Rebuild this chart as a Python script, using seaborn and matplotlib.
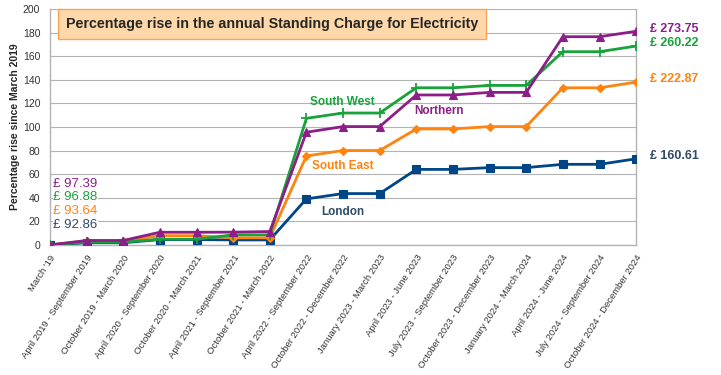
import pandas as pd
import seaborn as sns
import matplotlib.pyplot as plt

# Periodos (eixo x)
periods = ["March '19", "April 2019 - September 2019", "October 2019 - March 2020",
           "April 2020 - September 2020", "October 2020 - March 2021",
           "April 2021 - September 2021", "October 2021 - March 2022",
           "April 2022 - September 2022", "October 2022 - December 2022",
           "January 2023 - March 2023", "April 2023 - June 2023",
           "July 2023 - September 2023", "October 2023 - December 2023",
           "January 2024 - March 2024", "April 2024 - June 2024",
           "July 2024 - September 2024", "October 2024 - December 2024"]

# Aumento percentual desde marco de 2019
london = [0, 1.8, 1.8, 4.5, 4.5, 4.2, 4.2, 39, 43.5, 43.5, 64, 64, 65.5, 65.5, 68.3, 68.3, 73.0]
south_east = [0, 3.3, 3.3, 7.8, 7.8, 6.0, 6.0, 75.4, 80, 80, 98.3, 98.3, 100.3, 100.3, 133.2, 133.2, 138.0]
south_west = [0, 2.3, 2.3, 4.8, 4.8, 8.5, 8.5, 107.3, 111.8, 111.8, 133.2, 133.2, 135.2, 135.2, 163.8, 163.8, 168.6]
northern = [0, 3.7, 3.7, 10.7, 10.7, 10.8, 11.3, 95.5, 100.3, 100.3, 127.1, 127.1, 129.3, 129.3, 176.5, 176.5, 181.1]

start_prices = {"Northern": "£ 97.39", "South West": "£ 96.88",
                "South East": "£ 93.64", "London": "£ 92.86"}
end_prices = {"Northern": "£ 273.75", "South West": "£ 260.22",
              "South East": "£ 222.87", "London": "£ 160.61"}

series = {"London": london, "South East": south_east,
          "South West": south_west, "Northern": northern}
colors = {"London": "#004586", "South East": "#ff830f",
          "South West": "#17a23a", "Northern": "#8b1e87"}
text_colors = {"London": "#2f4b68", "South East": "#ff830f",
               "South West": "#17a23a", "Northern": "#8b1e87"}
markers = {"London": "s", "South East": "D", "South West": "+", "Northern": "^"}
msizes = {"London": 5.5, "South East": 4, "South West": 6.5, "Northern": 5.8}

rows = []
for name, vals in series.items():
    for i, v in enumerate(vals):
        rows.append({"x": i, "pct": v, "region": name})
df = pd.DataFrame(rows)

sns.set_style("white")
plt.rcParams['font.family'] = ['Liberation Sans', 'DejaVu Sans']

fig = plt.figure(figsize=(7.21, 3.75), dpi=100)
ax = fig.add_axes([0.0693, 0.347, 0.813, 0.629])

for name in ["London", "South East", "South West", "Northern"]:
    sub = df[df["region"] == name]
    sns.lineplot(data=sub, x="x", y="pct", color=colors[name], marker=markers[name],
                 markersize=msizes[name], markeredgecolor=colors[name],
                 markeredgewidth=1.3 if name == "South West" else 0.8,
                 linewidth=2, ax=ax, zorder=3)

ax.set_xlim(0, len(periods) - 1)
ax.set_ylim(0, 200)
ax.set_yticks(range(0, 201, 20))
ax.set_xticks(range(len(periods)))
ax.set_xticklabels(periods, rotation=57, ha="right", rotation_mode="anchor",
                   fontsize=6.8, color="#333333")
ax.tick_params(axis="y", labelsize=7.5, colors="#333333", length=5, width=0.8, color="#b3b3b3", pad=2)
ax.tick_params(axis="x", length=5, width=0.8, color="#b3b3b3", pad=1)
ax.set_xlabel("")
ax.set_ylabel("Percentage rise since March 2019", fontsize=7.5, fontweight="bold", labelpad=2)
ax.grid(axis="y", color="#b3b3b3", linewidth=0.8)
ax.set_axisbelow(True)
for side in ["left", "bottom", "right"]:
    ax.spines[side].set_color("#b3b3b3")
    ax.spines[side].set_linewidth(1)
    ax.spines[side].set_visible(True)
ax.spines["top"].set_visible(False)

# Titulo em caixa
ax.text(0.027, 0.935, "Percentage rise in the annual Standing Charge for Electricity",
        transform=ax.transAxes, fontsize=10.3, fontweight="bold", va="center", ha="left",
        bbox=dict(boxstyle="square,pad=0.55", facecolor="#ffd8aa", edgecolor="#f5a45a", linewidth=1))

# Precos iniciais (canto superior esquerdo)
for k, name in enumerate(["Northern", "South West", "South East", "London"]):
    ax.text(0.006, 0.26 - k * 0.058, start_prices[name], transform=ax.transAxes,
            color=text_colors[name], fontsize=9.5, va="center", ha="left",
            bbox=dict(facecolor="white", edgecolor="none", pad=0.5), zorder=2)

# Precos finais (direita)
last = len(periods) - 1
for name, vals in series.items():
    ax.annotate(end_prices[name], xy=(last, vals[-1]), xytext=(10, 2),
                textcoords="offset points", color=text_colors[name], fontsize=9,
                fontweight="bold", va="center", ha="left", annotation_clip=False)

# Nomes das regioes
ax.text(7.1, 119, "South West", color=text_colors["South West"], fontsize=8.5, fontweight="bold")
ax.text(9.95, 111, "Northern", color=text_colors["Northern"], fontsize=8.5, fontweight="bold")
ax.text(7.15, 64, "South East", color=text_colors["South East"], fontsize=8.5, fontweight="bold")
ax.text(7.4, 25, "London", color=text_colors["London"], fontsize=8.5, fontweight="bold")

plt.savefig("out.png", dpi=100)
